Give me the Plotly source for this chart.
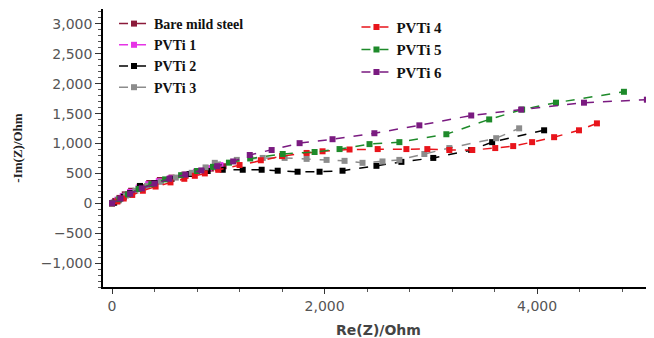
import plotly.graph_objects as go

names = ["Bare mild steel", "PVTi 1", "PVTi 2", "PVTi 3", "PVTi 4", "PVTi 5", "PVTi 6"]
colors = ["#8B1A3A", "#E633E6", "#000000", "#8C8C8C", "#E8141B", "#1E8A2A", "#7A1A80"]

bare_x = [0, 30, 70, 120, 180, 260, 350, 450, 560, 680, 800, 930, 1050]
bare_y = [0, 40, 90, 150, 210, 280, 340, 390, 430, 480, 530, 580, 620]

p1_x = [10, 50, 100, 170, 250, 340, 440, 550, 670, 790, 910, 1020]
p1_y = [10, 60, 120, 190, 260, 320, 370, 420, 470, 530, 590, 640]

p2_x = [20, 60, 110, 170, 263, 400, 560, 730, 900, 1042, 1230, 1408, 1559, 1746, 1953, 2169, 2488, 2723, 3023, 3380, 3577, 4066]
p2_y = [10, 50, 110, 170, 290, 340, 410, 490, 540, 561, 561, 561, 545, 528, 528, 545, 627, 693, 759, 891, 1023, 1221]

p3_x = [0, 60, 130, 220, 330, 460, 600, 750, 880, 967, 1174, 1418, 1624, 1831, 2019, 2188, 2357, 2545, 2704, 2939, 3174, 3615, 3831]
p3_y = [0, 60, 130, 210, 290, 360, 430, 510, 600, 677, 726, 759, 759, 743, 726, 710, 677, 700, 726, 825, 924, 1089, 1254]

p4_x = [0, 50, 110, 190, 290, 410, 550, 680, 779, 873, 1000, 1200, 1400, 1600, 1831, 1981, 2235, 2500, 2770, 2967, 3174, 3390, 3606, 3775, 3953, 4160, 4394, 4563]
p4_y = [0, 30, 80, 140, 210, 280, 350, 410, 460, 500, 560, 640, 720, 790, 842, 870, 900, 907, 907, 907, 891, 891, 924, 957, 1023, 1106, 1221, 1337]

p5_x = [0, 70, 150, 250, 370, 500, 650, 800, 950, 1100, 1300, 1606, 1906, 2141, 2423, 2704, 3146, 3549, 3859, 4178, 4817]
p5_y = [0, 70, 150, 240, 320, 400, 470, 540, 610, 680, 750, 825, 858, 907, 990, 1023, 1155, 1403, 1568, 1683, 1865]

p6_x = [0, 80, 170, 280, 400, 540, 690, 840, 990, 1140, 1296, 1502, 1765, 2075, 2469, 2892, 3380, 3850, 4441, 5033]
p6_y = [0, 80, 160, 250, 330, 410, 480, 550, 620, 700, 808, 891, 1006, 1072, 1172, 1304, 1469, 1568, 1683, 1733]

xs = [bare_x, p1_x, p2_x, p3_x, p4_x, p5_x, p6_x]
ys = [bare_y, p1_y, p2_y, p3_y, p4_y, p5_y, p6_y]

fig = go.Figure()
for i, (n, c, x, y) in enumerate(zip(names, colors, xs, ys)):
    fig.add_trace(go.Scatter(
        x=x, y=y, name=n, mode="lines+markers",
        line=dict(color=c, width=1.5, dash="dash"),
        marker=dict(symbol="square", size=6, color=c),
        legend="legend" if i < 4 else "legend2",
    ))

legend_font1 = dict(family="Liberation Serif", size=14, color="#111111", weight="bold")
legend_font2 = dict(family="Liberation Serif", size=15, color="#111111", weight="bold")
tick_font = dict(family="DejaVu Sans", size=14, color="#555555")
fig.update_layout(
    width=646, height=330,
    margin=dict(l=95, r=0, t=0, b=51),
    paper_bgcolor="white", plot_bgcolor="white",
    showlegend=True,
    legend=dict(x=0.02, y=1.005, xanchor="left", yanchor="top", bgcolor="rgba(0,0,0,0)",
                font=legend_font1, tracegroupgap=0, itemwidth=30),
    legend2=dict(x=0.46, y=0.99, xanchor="left", yanchor="top", bgcolor="rgba(0,0,0,0)",
                 font=legend_font2, tracegroupgap=0, itemwidth=30),
    xaxis=dict(
        range=[-85, 5100], showgrid=False, zeroline=False, automargin=False,
        showline=True, linecolor="black", linewidth=1.5,
        ticks="outside", tickcolor="#333", ticklen=5, dtick=2000, tick0=0,
        tickformat=",d", tickfont=tick_font,
        minor=dict(dtick=400, ticks="outside", ticklen=3, tickcolor="#555"),
        title=dict(text="<b>Re(Z)/Ohm</b>",
                   font=dict(family="DejaVu Sans", size=14, color="#444444")),
    ),
    yaxis=dict(
        range=[-1400, 3250], showgrid=False, zeroline=False, automargin=False,
        showline=True, linecolor="black", linewidth=1.5,
        ticks="outside", tickcolor="#333", ticklen=6, dtick=500, tick0=0,
        tickformat=",d", tickfont=tick_font,
        minor=dict(dtick=100, ticks="outside", ticklen=3, tickcolor="#555"),
        title=dict(text="<b>-Im(Z)/Ohm</b>",
                   font=dict(family="Liberation Serif", size=13, color="#222222")),
    ),
)

fig.write_html("out.html")
